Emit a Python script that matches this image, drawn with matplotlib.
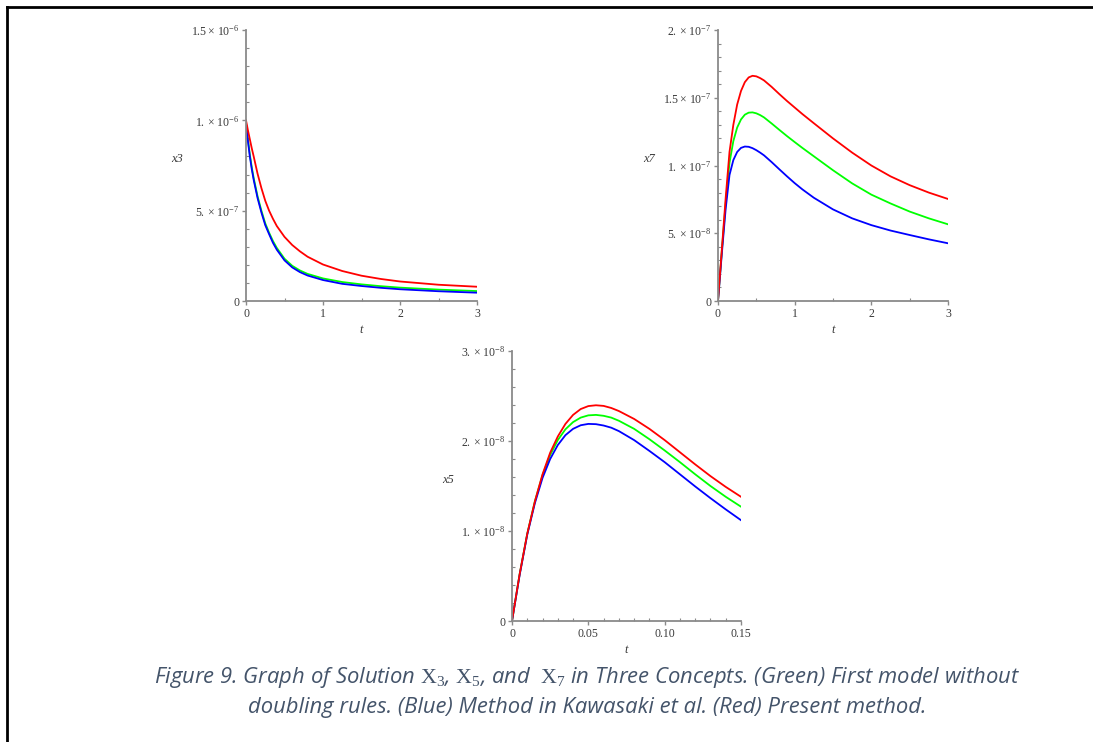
import numpy as np
import matplotlib
matplotlib.use("Agg")
import matplotlib.pyplot as plt
from matplotlib.lines import Line2D
from matplotlib.ticker import MultipleLocator

plt.rcParams["mathtext.fontset"] = "custom"
plt.rcParams["mathtext.rm"] = "Liberation Serif"
plt.rcParams["mathtext.it"] = "Liberation Serif:italic"
plt.rcParams["font.family"] = ["Open Sans", "DejaVu Sans"]

# ----------------------------
# Data
# ----------------------------
# x3 (units of 1e-7)
t3 = [0, 0.025, 0.05, 0.075, 0.1, 0.15, 0.2, 0.25, 0.3, 0.35, 0.4, 0.5, 0.6, 0.7, 0.8,
      1.0, 1.25, 1.5, 1.75, 2.0, 2.5, 3.0]
x3_red = [10.0, 9.45, 8.95, 8.45, 8.0, 7.05, 6.25, 5.55, 5.0, 4.55, 4.15, 3.55, 3.1, 2.75,
          2.45, 2.02, 1.66, 1.4, 1.22, 1.08, 0.9, 0.79]
x3_green = [9.85, 8.95, 8.1, 7.4, 6.8, 5.8, 5.0, 4.3, 3.78, 3.32, 2.94, 2.34, 1.95, 1.69,
            1.5, 1.25, 1.05, 0.92, 0.82, 0.74, 0.63, 0.55]
x3_blue = [9.8, 8.85, 8.0, 7.3, 6.7, 5.7, 4.9, 4.2, 3.7, 3.22, 2.84, 2.25, 1.86, 1.6, 1.41,
           1.16, 0.95, 0.83, 0.73, 0.65, 0.54, 0.46]

# x7 (units of 1e-7)
t7 = [0, 0.05, 0.1, 0.15, 0.2, 0.25, 0.3, 0.35, 0.4, 0.45, 0.5, 0.55, 0.6, 0.7, 0.8, 0.9,
      1.0, 1.1, 1.25, 1.5, 1.75, 2.0, 2.25, 2.5, 2.75, 3.0]
x7_red = [0, 0.38, 0.76, 1.1, 1.3, 1.45, 1.55, 1.615, 1.65, 1.662, 1.658, 1.645, 1.628,
          1.58, 1.527, 1.476, 1.428, 1.38, 1.312, 1.2, 1.095, 1.0, 0.92, 0.855, 0.8, 0.753]
x7_green = [0, 0.37, 0.72, 1.02, 1.18, 1.28, 1.34, 1.375, 1.39, 1.392, 1.385, 1.372, 1.355,
            1.31, 1.263, 1.217, 1.173, 1.13, 1.068, 0.965, 0.868, 0.785, 0.72, 0.66, 0.61,
            0.566]
x7_blue = [0, 0.35, 0.68, 0.93, 1.04, 1.1, 1.13, 1.14, 1.138, 1.128, 1.113, 1.095, 1.075,
           1.025, 0.972, 0.92, 0.87, 0.824, 0.762, 0.676, 0.61, 0.56, 0.52, 0.487, 0.455,
           0.426]

# x5 (units of 1e-8)
t5 = [0, 0.005, 0.01, 0.015, 0.02, 0.025, 0.03, 0.035, 0.04, 0.045, 0.05, 0.055, 0.06,
      0.065, 0.07, 0.08, 0.09, 0.1, 0.11, 0.12, 0.13, 0.14, 0.15]
x5_red = [0, 0.52, 0.97, 1.33, 1.63, 1.87, 2.05, 2.19, 2.29, 2.355, 2.388, 2.397, 2.39,
          2.367, 2.333, 2.245, 2.135, 2.01, 1.875, 1.74, 1.61, 1.49, 1.38]
x5_green = [0, 0.52, 0.97, 1.33, 1.62, 1.845, 2.01, 2.13, 2.21, 2.26, 2.285, 2.29, 2.28,
            2.26, 2.225, 2.135, 2.02, 1.895, 1.765, 1.63, 1.5, 1.38, 1.27]
x5_blue = [0, 0.51, 0.96, 1.31, 1.59, 1.8, 1.955, 2.065, 2.135, 2.175, 2.19, 2.187, 2.172,
           2.148, 2.11, 2.01, 1.89, 1.765, 1.63, 1.495, 1.365, 1.24, 1.12]

caption1 = (r"Figure 9. Graph of Solution $\mathrm{X}_3$, $\mathrm{X}_5$, and  $\mathrm{X}_7$"
            r" in Three Concepts. (Green) First model without")
caption2 = "doubling rules. (Blue) Method in Kawasaki et al. (Red) Present method."

W, H = 1093, 742
fig = plt.figure(figsize=(W / 100, H / 100), dpi=100)
fig.patch.set_facecolor("white")

AX_COL = "#8a8a8a"
TXT_COL = "#3a3a3a"


def px_axes(x0, x1, ytop, ybot):
    return fig.add_axes([x0 / W, 1 - ybot / H, (x1 - x0) / W, (ybot - ytop) / H])


def style(ax, xlim, ylim, xmajor, xlabels, yticks, ylabels, xminor, yminor, ylab, ylab_x):
    ax.set_xlim(*xlim)
    ax.set_ylim(*ylim)
    for s in ["top", "right"]:
        ax.spines[s].set_visible(False)
    for s in ["left", "bottom"]:
        ax.spines[s].set_color(AX_COL)
        ax.spines[s].set_linewidth(1.3)
    ax.set_xticks(xmajor)
    ax.set_xticklabels(xlabels)
    ax.set_yticks(yticks)
    ax.set_yticklabels(ylabels)
    ax.xaxis.set_minor_locator(MultipleLocator(xminor))
    ax.yaxis.set_minor_locator(MultipleLocator(yminor))
    ax.tick_params(which="major", direction="out", length=3, width=1, color=AX_COL,
                   labelsize=8.5, labelcolor=TXT_COL, pad=2)
    ax.tick_params(which="minor", direction="in", length=2.5, width=0.8, color=AX_COL)
    for lb in ax.get_xticklabels() + ax.get_yticklabels():
        lb.set_fontfamily("Liberation Serif")
    ax.set_ylabel(ylab, rotation=0, fontsize=9, family="Liberation Serif",
                  style="italic", color=TXT_COL)
    ax.yaxis.set_label_coords(ylab_x, 0.5)
    ax.set_xlabel("t", fontsize=9, family="Liberation Serif", style="italic",
                  color=TXT_COL, labelpad=3)


LW = 1.3

# x3
ax1 = px_axes(246, 477, 30, 301)
s = 1e-7
ax1.plot(t3, np.array(x3_green) * s, color="#00ff00", lw=LW)
ax1.plot(t3, np.array(x3_blue) * s, color="#0000ff", lw=LW)
ax1.plot(t3, np.array(x3_red) * s, color="#ff0000", lw=LW)
style(ax1, (0, 3), (0, 1.5e-6), [0, 1, 2, 3], ["0", "1", "2", "3"],
      [0, 5e-7, 1e-6, 1.5e-6],
      ["0", r"$5.\times\,10^{-7}$", r"$1.\times\,10^{-6}$", r"$1.5\times\,10^{-6}$"],
      0.5, 1e-7, "x3", -0.30)

# x7
ax2 = px_axes(718, 948, 30, 301)
ax2.plot(t7, np.array(x7_green) * s, color="#00ff00", lw=LW)
ax2.plot(t7, np.array(x7_blue) * s, color="#0000ff", lw=LW)
ax2.plot(t7, np.array(x7_red) * s, color="#ff0000", lw=LW)
style(ax2, (0, 3), (0, 2e-7), [0, 1, 2, 3], ["0", "1", "2", "3"],
      [0, 5e-8, 1e-7, 1.5e-7, 2e-7],
      ["0", r"$5.\times\,10^{-8}$", r"$1.\times\,10^{-7}$", r"$1.5\times\,10^{-7}$",
       r"$2.\times\,10^{-7}$"],
      0.5, 1e-8, "x7", -0.30)

# x5
ax3 = px_axes(512, 741, 351, 621)
s5 = 1e-8
ax3.plot(t5, np.array(x5_green) * s5, color="#00ff00", lw=LW)
ax3.plot(t5, np.array(x5_blue) * s5, color="#0000ff", lw=LW)
ax3.plot(t5, np.array(x5_red) * s5, color="#ff0000", lw=LW)
style(ax3, (0, 0.15), (0, 3e-8), [0, 0.05, 0.10, 0.15], ["0", "0.05", "0.10", "0.15"],
      [0, 1e-8, 2e-8, 3e-8],
      ["0", r"$1.\times\,10^{-8}$", r"$2.\times\,10^{-8}$", r"$3.\times\,10^{-8}$"],
      0.01, 2e-9, "x5", -0.28)

# caption
CAP_COL = "#44546A"
fig.text(587 / W, 1 - 677 / H, caption1, ha="center", va="center", fontsize=15.8,
         style="italic", color=CAP_COL)
fig.text(587 / W, 1 - 707 / H, caption2, ha="center", va="center", fontsize=15.8,
         style="italic", color=CAP_COL)

# page border (left and top)
fig.add_artist(Line2D([7 / W, 7 / W], [0, 1 - 7 / H], color="black", lw=2,
                      transform=fig.transFigure))
fig.add_artist(Line2D([7 / W, 1], [1 - 7 / H, 1 - 7 / H], color="black", lw=2,
                      transform=fig.transFigure))

fig.savefig("out.png", dpi=100)
